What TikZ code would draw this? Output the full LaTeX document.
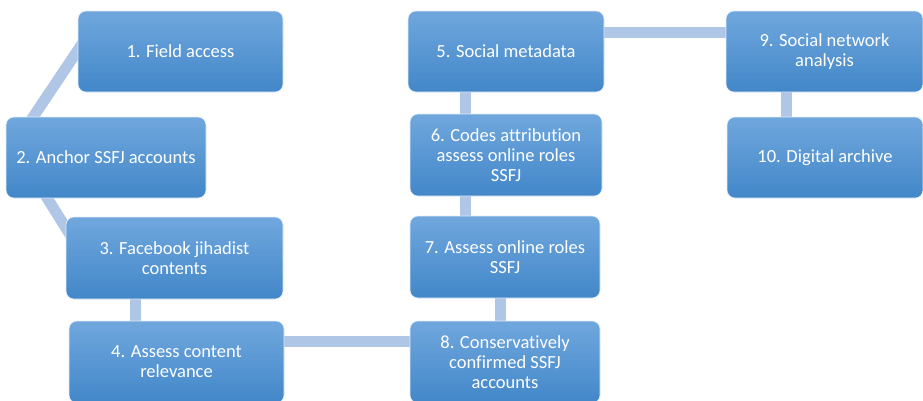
\documentclass[tikz,border=0pt]{standalone}
\usepackage{fontspec}
\setmainfont[RawFeature=-liga]{Carlito}
\usetikzlibrary{positioning, calc}
\definecolor{boxtop}{RGB}{112,167,221}
\definecolor{boxbot}{RGB}{66,135,201}
\definecolor{linkblue}{RGB}{176,198,230}
\pgfdeclarelayer{bg}
\pgfsetlayers{bg,main}
\tikzstyle{stage} = [rectangle, rounded corners=8pt, minimum height=81pt,
    top color=boxtop, bottom color=boxbot, draw=white!80!boxtop, line width=0.6pt,
    text=white, align=center, inner sep=2pt, font=\fontsize{18.5}{20}\selectfont]
\tikzstyle{link}  = [line width=11pt, draw=linkblue]

\begin{document}
\begin{tikzpicture}[x=1pt, y=-1pt]
    \useasboundingbox (0,0) rectangle (923,400);
    \clip (0,0) rectangle (923,400);
    \node (n1)  [stage, minimum width=205pt]                    at (180.5,51.5) {1. Field access};
    \node (n2)  [stage, minimum width=200pt]                    at (106,157.5)  {2. Anchor SSFJ accounts};
    \node (n3)  [stage, minimum width=217pt, minimum height=82pt] at (174.5,258)  {3. Facebook jihadist\\contents};
    \node (n4)  [stage, minimum width=215pt, minimum height=82pt] at (176.5,362)  {4. Assess content\\relevance};
    \node (n5)  [stage, minimum width=196pt]                    at (506,51.5)   {5. Social metadata};
    \node (n6)  [stage, minimum width=192pt, minimum height=82pt] at (506,155)    {6. Codes attribution\\assess online roles\\SSFJ};
    \node (n7)  [stage, minimum width=190pt, minimum height=82pt] at (505,257)    {7. Assess online roles\\SSFJ};
    \node (n8)  [stage, minimum width=190pt, minimum height=82pt] at (505,362)    {8. Conservatively\\confirmed SSFJ\\accounts};
    \node (n9)  [stage, minimum width=197pt]                    at (824.5,51.5) {9. Social network\\analysis};
    \node (n10) [stage, minimum width=196pt]                    at (825,157.5)  {10. Digital archive};
    \begin{pgfonlayer}{bg}
    \draw [link] ($(n1.west)+(7,-11.5)$) -- ($(n2.west)+(12,-17.5)$);
    \draw [link] ($(n2.west)+(27,17.5)$) -- ($(n3.west)+(14,-8)$);
    \draw [link] ($(n3.center)+(-39.5,0)$) -- ($(n3.center |- n4.center)+(-39.5,0)$);
    \draw [link] ($(n4.center)+(0,-21)$) -- ($(n4.center -| n8.center)+(0,-21)$);
    \draw [link] ($(n8.center)+(-5,0)$) -- ($(n8.center |- n7.center)+(-5,0)$);
    \draw [link] ($(n7.center)+(-40,0)$) -- ($(n7.center |- n6.center)+(-40,0)$);
    \draw [link] ($(n6.center)+(-41,0)$) -- ($(n6.center |- n5.center)+(-41,0)$);
    \draw [link] ($(n5.center)+(0,-19.5)$) -- ($(n5.center -| n9.center)+(0,-19.5)$);
    \draw [link] ($(n9.center)+(-38.5,0)$) -- ($(n9.center |- n10.center)+(-38.5,0)$);
    \end{pgfonlayer}
\end{tikzpicture}
\end{document}
